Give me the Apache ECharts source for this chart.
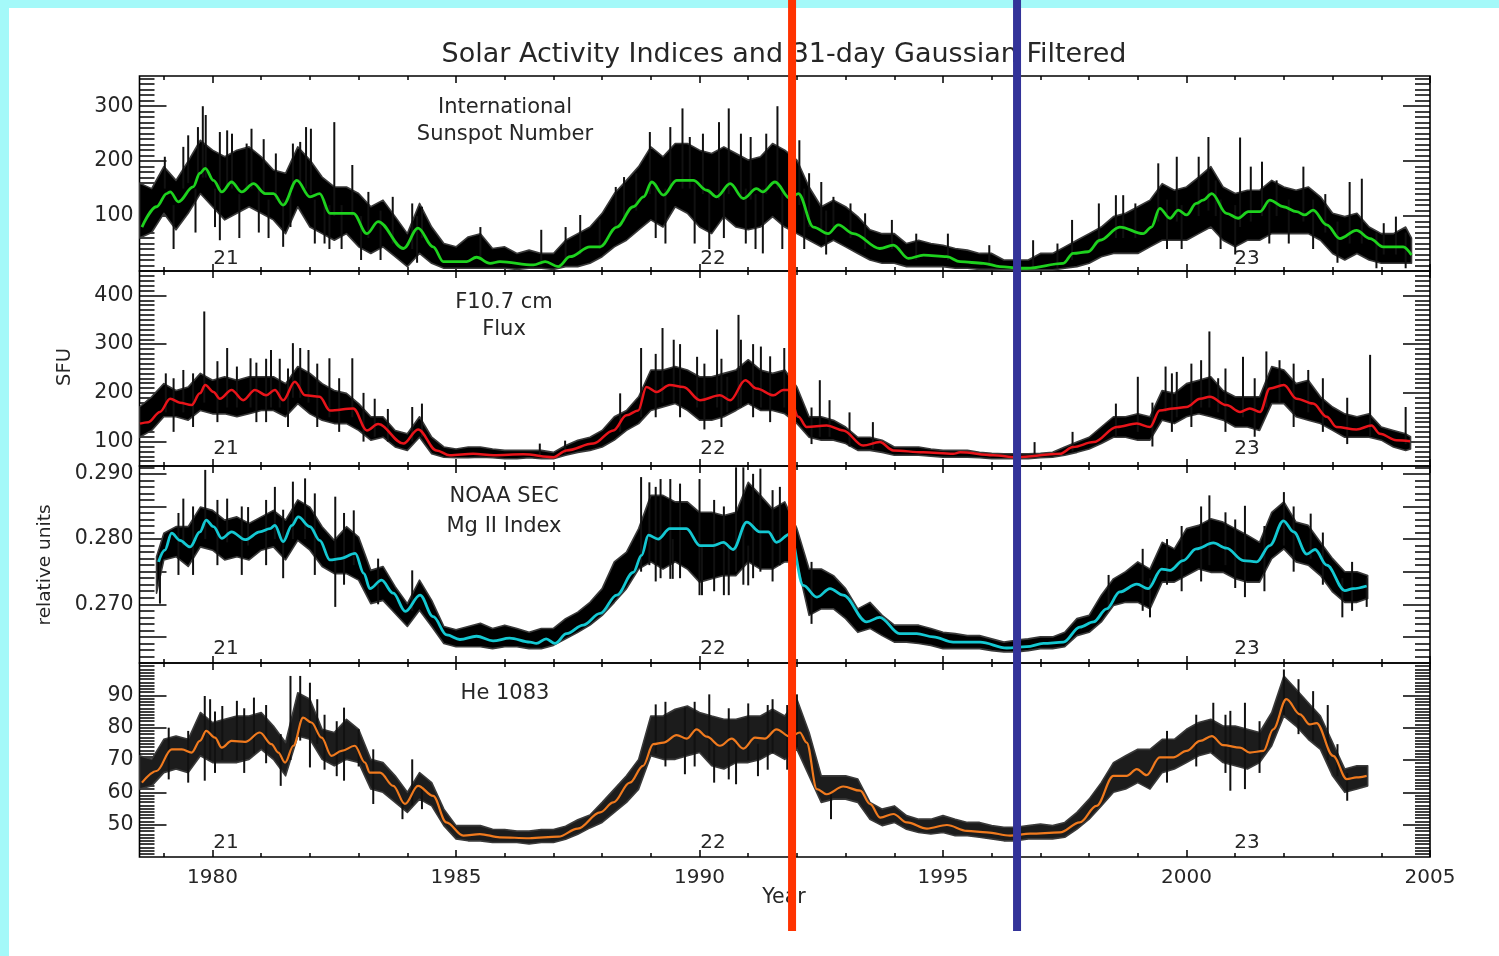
<!DOCTYPE html>
<html>
<head>
<meta charset="utf-8">
<title>Solar Activity Indices</title>
<script src="https://cdn.jsdelivr.net/npm/echarts@6/dist/echarts.min.js"></script>
<style>
  html, body { margin: 0; padding: 0; background: #a4f9f9; }
  #sheet { position: absolute; left: 9px; top: 8px; width: 1490px; height: 948px; background: #ffffff; }
  #chart { position: absolute; left: 0; top: 0; width: 1499px; height: 956px; }
</style>
</head>
<body>
<div id="sheet"></div>
<div id="chart"></div>
<script>
// ---------- tick labels ----------
const yearTicks = [1980, 1985, 1990, 1995, 2000, 2005];
const yearMinor = [1979, 1980, 1981, 1982, 1983, 1984, 1985, 1986, 1987, 1988, 1989, 1990, 1991,
  1992, 1993, 1994, 1995, 1996, 1997, 1998, 1999, 2000, 2001, 2002, 2003, 2004];
const sunTicks = [100, 200, 300];
const fluxTicks = [100, 200, 300, 400];
const mgTicks = [0.270, 0.280, 0.290];
const heTicks = [50, 60, 70, 80, 90];

// ---------- International Sunspot Number ----------
// daily scatter: dense core [year, upper, lower]
const sunBand = [
  [1978.5,160,60],[1978.75,150,70],
  [1979,190,105],[1979.25,165,75],[1979.5,200,105],[1979.75,238,141],
  [1980,220,117],[1980.25,208,93],[1980.5,220,105],[1980.75,226,117],
  [1981,208,105],[1981.25,184,93],[1981.5,178,68],[1981.75,226,117],
  [1982,202,80],[1982.25,171,68],[1982.5,153,56],[1982.75,153,68],
  [1983,141,44],[1983.25,117,32],[1983.5,129,44],[1983.75,99,26],
  [1984,68,8],[1984.25,123,32],[1984.5,80,14],[1984.75,50,5],
  [1985,44,5],[1985.25,62,5],[1985.5,68,5],[1985.75,41,5],
  [1986,44,5],[1986.25,32,3],[1986.5,38,5],[1986.75,32,5],
  [1987,32,3],[1987.25,56,8],[1987.5,68,8],[1987.75,80,14],
  [1988,105,26],[1988.25,141,44],[1988.5,165,56],[1988.75,190,75],
  [1989,226,93],[1989.25,208,80],[1989.5,232,117],[1989.75,232,105],
  [1990,220,80],[1990.25,214,68],[1990.5,226,99],[1990.75,214,80],
  [1991,202,75],[1991.25,208,80],[1991.5,232,99],[1991.75,220,80],
  [1992,202,68],[1992.25,153,56],[1992.5,117,44],[1992.75,129,56],
  [1993,117,44],[1993.25,99,32],[1993.5,75,20],[1993.75,68,14],
  [1994,68,14],[1994.25,50,8],[1994.5,56,8],[1994.75,50,8],
  [1995,47,8],[1995.25,41,5],[1995.5,38,5],[1995.75,32,3],
  [1996,32,3],[1996.25,20,2],[1996.5,20,2],[1996.75,20,2],
  [1997,32,2],[1997.25,32,2],[1997.5,44,5],[1997.75,56,8],
  [1998,68,14],[1998.25,80,26],[1998.5,99,32],[1998.75,105,32],
  [1999,117,32],[1999.25,129,44],[1999.5,159,56],[1999.75,147,56],
  [2000,153,56],[2000.25,171,68],[2000.5,190,80],[2000.75,153,56],
  [2001,141,44],[2001.25,147,56],[2001.5,147,56],[2001.75,165,68],
  [2002,153,68],[2002.25,147,68],[2002.5,153,68],[2002.75,135,56],
  [2003,105,32],[2003.25,99,20],[2003.5,105,32],[2003.75,80,20],
  [2004,68,14],[2004.25,68,14],[2004.5,80,14],[2004.62,60,14]
];
// isolated daily extremes [year, low, high]
const sunSpikes = [
  [1979.02,150,208],[1979.4,150,226],[1979.5,160,247],[1979.7,170,262],[1979.8,170,300],[1979.86,170,284],
  [1980.15,56,253],[1980.3,150,256],[1980.4,150,250],[1980.7,150,232],[1980.8,150,259],[1981.05,140,240],
  [1981.3,130,214],[1981.45,44,130],[1981.65,150,232],[1981.8,160,235],[1981.92,150,262],[1982.02,140,259],
  [1982.4,40,120],[1982.5,100,271],[1982.87,100,193],[1983.2,60,144],[1983.7,50,135],[1984.1,40,123],
  [1984.3,60,117],[1985.5,20,80],[1986.75,10,75],[1987.25,20,80],[1987.55,30,102],[1987.95,40,95],
  [1988.28,80,153],[1988.45,90,171],[1988.7,110,178],[1988.98,140,253],[1989.4,150,262],[1989.65,150,296],
  [1989.8,150,244],[1990.07,140,250],[1990.4,130,271],[1990.6,140,296],[1990.85,130,250],[1991.05,130,244],
  [1991.3,32,150],[1991.37,140,250],[1991.6,150,300],[1991.85,130,247],[1992.05,120,238],[1992.25,80,178],
  [1992.5,70,162],[1992.75,80,135],[1993.1,60,123],[1993.4,40,105],[1993.95,40,93],[1994.45,20,68],
  [1995.1,20,68],[1995.95,10,47],[1996.85,5,56],[1997.35,5,50],[1997.65,20,93],[1998.2,50,123],
  [1998.55,60,138],[1998.7,60,138],[1998.95,60,123],[1999.42,90,196],[1999.8,90,208],[2000.25,100,208],
  [2000.45,110,244],[2000.6,100,165],[2001.1,80,243],[2001.32,90,190],[2001.55,100,199],[2001.85,100,165],
  [2002.4,90,190],[2002.85,70,140],[2003.35,50,162],[2003.6,50,168],[2004.05,30,87],[2004.3,30,99],
  [1979.2,40,120],[1979.65,70,150],[1980.05,80,150],[1980.55,60,140],[1980.95,70,150],[1981.15,60,130],
  [1981.6,80,140],[1982.1,50,130],[1982.3,50,130],[1982.65,40,120],[1983.05,20,100],[1983.45,20,110],
  [1984.2,15,100],[1989.1,60,160],[1989.3,50,150],[1989.9,50,160],[1990.2,40,150],[1990.5,60,150],
  [1990.95,50,150],[1991.15,40,140],[1991.7,40,150],[1992.15,40,150],[1992.6,30,110],[1999.6,40,130],
  [1999.9,40,120],[2000.7,40,130],[2001.0,30,120],[2001.7,50,130],[2002.1,50,130],[2002.6,40,130],
  [2003.1,15,90],[2003.9,5,70],[2004.5,5,70]
];
// 81-day Gaussian filtered
const sunSmooth = [
  [1978.55,80],[1978.85,117],[1979.06,141],[1979.13,144],[1979.3,126],[1979.6,153],[1979.74,178],[1979.85,187],
  [1980.02,165],[1980.19,144],[1980.39,162],[1980.6,144],[1980.84,159],[1981.08,141],[1981.25,141],[1981.45,120],
  [1981.73,165],[1982.0,135],[1982.2,141],[1982.41,105],[1982.89,105],[1983.17,68],[1983.4,90],[1983.92,41],
  [1984.22,78],[1984.53,44],[1984.74,17],[1985.22,17],[1985.42,25],[1985.7,14],[1985.9,17],[1986.59,11],
  [1986.83,17],[1987.1,8],[1987.34,26],[1987.75,44],[1987.96,44],[1988.3,80],[1988.64,117],[1988.85,135],
  [1989.02,162],[1989.26,138],[1989.53,165],[1989.87,165],[1990.15,147],[1990.35,135],[1990.63,159],[1990.9,132],
  [1991.17,150],[1991.3,144],[1991.55,162],[1991.86,132],[1992.03,141],[1992.34,80],[1992.64,68],[1992.85,84],
  [1993.16,68],[1993.7,41],[1993.98,47],[1994.29,23],[1994.6,29],[1995.08,26],[1995.35,17],[1995.83,14],
  [1996.17,8],[1996.58,5],[1996.72,5],[1997.47,14],[1997.67,32],[1997.98,35],[1998.22,56],[1998.63,80],
  [1999.11,68],[1999.28,80],[1999.45,114],[1999.66,96],[1999.83,111],[2000.0,102],[2000.2,123],[2000.34,129],
  [2000.52,141],[2000.82,105],[2001.06,96],[2001.27,108],[2001.51,108],[2001.71,129],[2001.99,117],[2002.26,108],
  [2002.43,102],[2002.6,111],[2002.88,84],[2003.15,59],[2003.49,74],[2003.77,59],[2004.04,44],[2004.45,44],[2004.62,29]
];

// ---------- F10.7 cm Flux (SFU) ----------
const fluxBand = [
  [1978.5,171,109],[1978.75,192,123],
  [1979,219,151],[1979.25,205,151],[1979.5,212,144],[1979.75,240,164],
  [1980,226,157],[1980.25,233,157],[1980.5,226,151],[1980.75,233,157],
  [1981,233,164],[1981.25,233,164],[1981.5,219,151],[1981.75,254,178],
  [1982,240,157],[1982.25,219,144],[1982.5,205,137],[1982.75,199,137],
  [1983,178,123],[1983.25,151,103],[1983.5,151,109],[1983.75,123,89],
  [1984,116,82],[1984.25,151,109],[1984.5,109,75],[1984.75,89,68],
  [1985,85,67],[1985.25,89,67],[1985.5,89,68],[1985.75,85,67],
  [1986,82,65],[1986.25,82,65],[1986.5,82,67],[1986.75,82,65],
  [1987,78,65],[1987.25,92,72],[1987.5,103,78],[1987.75,109,82],
  [1988,123,89],[1988.25,151,103],[1988.5,164,123],[1988.75,192,137],
  [1989,247,164],[1989.25,247,171],[1989.5,254,178],[1989.75,247,164],
  [1990,233,144],[1990.25,233,144],[1990.5,240,151],[1990.75,247,164],
  [1991,268,178],[1991.25,247,164],[1991.5,240,164],[1991.75,247,157],
  [1992,212,137],[1992.25,151,109],[1992.5,151,103],[1992.75,144,103],
  [1993,130,96],[1993.25,109,82],[1993.5,109,82],[1993.75,103,78],
  [1994,89,72],[1994.25,89,72],[1994.5,89,72],[1994.75,85,70],
  [1995,82,68],[1995.25,82,68],[1995.5,82,68],[1995.75,78,67],
  [1996,76,65],[1996.25,75,65],[1996.5,75,65],[1996.75,75,65],
  [1997,76,67],[1997.25,78,68],[1997.5,89,72],[1997.75,99,78],
  [1998,109,85],[1998.25,130,96],[1998.5,151,109],[1998.75,151,109],
  [1999,157,103],[1999.25,151,103],[1999.5,205,144],[1999.75,199,137],
  [2000,219,151],[2000.25,226,157],[2000.5,233,151],[2000.75,205,144],
  [2001,192,130],[2001.25,192,130],[2001.5,192,123],[2001.75,254,178],
  [2002,247,178],[2002.25,219,151],[2002.5,226,144],[2002.75,192,137],
  [2003,171,123],[2003.25,157,109],[2003.5,151,109],[2003.75,157,109],
  [2004,130,103],[2004.25,123,89],[2004.5,116,82],[2004.6,110,85]
];
const fluxSpikes = [
  [1979.04,160,240],[1979.4,160,247],[1979.83,180,367],[1980.3,170,292],[1980.5,170,254],[1980.78,170,271],
  [1981.2,170,288],[1981.38,170,270],[1981.65,190,302],[1981.8,190,292],[1981.97,180,288],[1982.4,150,271],
  [1982.87,150,271],[1983.33,110,188],[1983.6,100,167],[1984.1,100,171],[1984.3,110,178],[1986.72,70,96],
  [1987.24,75,102],[1988.37,120,199],[1988.8,150,292],[1989.24,180,333],[1989.47,180,309],[1989.95,170,274],
  [1990.36,170,330],[1990.57,160,233],[1990.8,170,360],[1990.85,170,309],[1991.26,170,295],[1991.74,170,292],
  [1992.47,110,226],[1992.67,110,185],[1993.08,90,160],[1993.56,85,140],[1996.88,68,99],[1997.66,80,120],
  [1998.55,110,178],[1999.0,120,233],[1999.57,160,254],[1999.8,150,243],[2000.3,170,267],[2000.47,170,326],
  [2000.65,160,230],[2001.16,150,274],[2001.64,170,285],[2001.91,180,267],[2002.5,160,247],[2003.77,110,278],
  [2004.5,95,171],
  [1979.2,120,230],[1979.6,130,240],[1980.1,140,265],[1980.9,140,262],[1981.1,140,270],[1981.55,130,250],
  [1982.15,130,260],[1982.6,120,230],[1983.1,100,200],[1989.1,150,280],[1989.6,150,300],[1990.1,125,260],
  [1990.45,130,270],[1991.1,150,300],[1991.45,140,275],[1992.3,95,170],[1999.3,90,180],[1999.7,120,240],
  [2000.1,130,260],[2000.8,120,250],[2001.4,110,230],[2002.2,130,260],[2002.8,120,230],[2003.3,95,190]
];
const fluxSmooth = [
  [1978.51,137],[1978.68,140],[1978.92,161],[1979.13,188],[1979.33,180],[1979.57,175],[1979.74,199],[1979.85,216],
  [1980.02,202],[1980.15,188],[1980.39,206],[1980.63,185],[1980.87,206],[1981.1,195],[1981.28,206],[1981.45,185],
  [1981.69,223],[1981.9,195],[1982.2,192],[1982.41,164],[1982.89,168],[1983.17,123],[1983.4,136],[1983.92,96],
  [1984.22,125],[1984.6,82],[1984.87,72],[1985.35,75],[1985.77,72],[1986.38,74],[1987.0,68],[1987.27,82],
  [1987.82,96],[1988.23,123],[1988.5,154],[1988.74,164],[1988.91,212],[1989.12,202],[1989.39,216],[1989.67,212],
  [1990.01,185],[1990.42,195],[1990.63,185],[1990.94,226],[1991.17,209],[1991.52,195],[1991.72,206],[1991.82,206],
  [1992.03,151],[1992.2,130],[1992.61,133],[1992.95,123],[1993.36,92],[1993.7,99],[1993.98,82],[1994.59,78],
  [1995.21,75],[1995.35,78],[1996.03,72],[1996.51,68],[1997.4,75],[1997.67,89],[1998.09,99],[1998.57,130],
  [1998.98,137],[1999.25,130],[1999.45,164],[1999.73,168],[2000.0,171],[2000.28,188],[2000.48,192],[2000.82,175],
  [2001.1,161],[2001.3,168],[2001.51,161],[2001.71,209],[2002.0,216],[2002.26,188],[2002.6,178],[2002.88,151],
  [2003.08,130],[2003.49,125],[2003.8,133],[2003.97,116],[2004.31,103],[2004.59,101]
];

// ---------- NOAA SEC Mg II Index (relative units) ----------
const mgBand = [
  [1978.85,0.2773,0.2717],
  [1979,0.2809,0.2768],[1979.25,0.2819,0.2773],[1979.5,0.2819,0.2758],[1979.75,0.2849,0.2788],
  [1980,0.2844,0.2783],[1980.25,0.2829,0.2768],[1980.5,0.2834,0.2773],[1980.75,0.2824,0.2768],
  [1981,0.2834,0.2783],[1981.25,0.2844,0.2788],[1981.5,0.2829,0.2768],[1981.75,0.2860,0.2798],
  [1982,0.2849,0.2783],[1982.25,0.2819,0.2758],[1982.5,0.2798,0.2747],[1982.75,0.2819,0.2747],
  [1983,0.2803,0.2737],[1983.25,0.2752,0.2701],[1983.5,0.2758,0.2706],[1983.75,0.2727,0.2686],
  [1984,0.2701,0.2666],[1984.25,0.2737,0.2691],[1984.5,0.2706,0.2666],[1984.75,0.2666,0.2640],
  [1985,0.2661,0.2635],[1985.25,0.2666,0.2635],[1985.5,0.2671,0.2635],[1985.75,0.2663,0.2632],
  [1986,0.2668,0.2635],[1986.25,0.2663,0.2635],[1986.5,0.2657,0.2632],[1986.75,0.2663,0.2632],
  [1987,0.2663,0.2637],[1987.25,0.2678,0.2647],[1987.5,0.2688,0.2657],[1987.75,0.2703,0.2668],
  [1988,0.2724,0.2683],[1988.25,0.2765,0.2703],[1988.5,0.2780,0.2724],[1988.75,0.2816,0.2754],
  [1989,0.2867,0.2765],[1989.25,0.2867,0.2754],[1989.5,0.2857,0.2765],[1989.75,0.2857,0.2754],
  [1990,0.2841,0.2734],[1990.25,0.2841,0.2739],[1990.5,0.2836,0.2744],[1990.75,0.2841,0.2744],
  [1991,0.2887,0.2765],[1991.25,0.2867,0.2754],[1991.5,0.2846,0.2754],[1991.75,0.2857,0.2765],
  [1992,0.2816,0.2765],[1992.25,0.2754,0.2683],[1992.5,0.2754,0.2693],[1992.75,0.2744,0.2693],
  [1993,0.2724,0.2678],[1993.25,0.2693,0.2657],[1993.5,0.2703,0.2663],[1993.75,0.2683,0.2652],
  [1994,0.2668,0.2642],[1994.25,0.2668,0.2642],[1994.5,0.2668,0.2640],[1994.75,0.2663,0.2637],
  [1995,0.2657,0.2632],[1995.25,0.2655,0.2632],[1995.5,0.2652,0.2632],[1995.75,0.2652,0.2632],
  [1996,0.2647,0.2629],[1996.25,0.2642,0.2627],[1996.5,0.2645,0.2627],[1996.75,0.2647,0.2629],
  [1997,0.2650,0.2632],[1997.25,0.2650,0.2632],[1997.5,0.2657,0.2635],[1997.75,0.2678,0.2652],
  [1998,0.2683,0.2657],[1998.25,0.2714,0.2673],[1998.5,0.2739,0.2698],[1998.75,0.2750,0.2703],
  [1999,0.2765,0.2703],[1999.25,0.2754,0.2693],[1999.5,0.2795,0.2734],[1999.75,0.2785,0.2734],
  [2000,0.2816,0.2744],[2000.25,0.2821,0.2754],[2000.5,0.2831,0.2749],[2000.75,0.2826,0.2749],
  [2001,0.2816,0.2739],[2001.25,0.2806,0.2734],[2001.5,0.2795,0.2734],[2001.75,0.2841,0.2770],
  [2002,0.2857,0.2785],[2002.25,0.2826,0.2765],[2002.5,0.2821,0.2760],[2002.75,0.2795,0.2744],
  [2003,0.2770,0.2719],[2003.25,0.2750,0.2703],[2003.5,0.2750,0.2703],[2003.72,0.2744,0.2709]
];
const mgSpikes = [
  [1978.92,0.2701,0.2780],[1979.4,0.2790,0.2862],[1979.85,0.2800,0.2906],[1980.3,0.2795,0.2862],
  [1980.73,0.2790,0.2849],[1981.28,0.2800,0.2880],[1981.65,0.2800,0.2888],[1981.9,0.2800,0.2893],
  [1982.52,0.2696,0.2865],[1982.9,0.2760,0.2844],[1983.4,0.2700,0.2770],[1984.1,0.2690,0.2752],
  [1988.8,0.2750,0.2895],[1988.97,0.2760,0.2887],[1989.2,0.2740,0.2892],[1989.4,0.2739,0.2892],
  [1989.45,0.2739,0.2800],[1990.0,0.2714,0.2892],[1990.05,0.2714,0.2790],[1990.5,0.2714,0.2850],
  [1990.6,0.2714,0.2790],[1990.75,0.2750,0.2910],[1990.9,0.2730,0.2910],[1991.0,0.2729,0.2790],
  [1991.25,0.2750,0.2908],[1991.65,0.2760,0.2880],[1998.4,0.2690,0.2745],[1999.25,0.2680,0.2740],
  [1999.6,0.2730,0.2800],[2000.47,0.2760,0.2867],[2000.8,0.2760,0.2841],[2001.2,0.2711,0.2851],
  [2002.0,0.2790,0.2872],[2002.55,0.2770,0.2839],[2003.2,0.2680,0.2740],[2003.7,0.2696,0.2740],
  [1979.3,0.2745,0.2840],[1979.6,0.2745,0.2850],[1980.1,0.2760,0.2860],[1980.6,0.2745,0.2850],
  [1981.1,0.2760,0.2860],[1981.45,0.2740,0.2845],[1982.1,0.2745,0.2870],[1982.7,0.2730,0.2840],
  [1989.1,0.2735,0.2880],[1989.6,0.2740,0.2885],[1990.3,0.2720,0.2860],[1991.1,0.2740,0.2900],
  [1991.5,0.2735,0.2875],[1992.3,0.2670,0.2765],[1999.1,0.2690,0.2785],[1999.9,0.2720,0.2820],
  [2000.3,0.2735,0.2850],[2001.0,0.2725,0.2830],[2001.6,0.2720,0.2820],[2002.2,0.2750,0.2850],
  [2002.8,0.2730,0.2810],[2003.4,0.2690,0.2765]
];
const mgSmooth = [
  [1978.89,0.2765],[1979.02,0.2783],[1979.16,0.2809],[1979.33,0.2798],[1979.54,0.2788],[1979.74,0.2811],
  [1979.87,0.2829],[1980.02,0.2819],[1980.19,0.2801],[1980.39,0.2811],[1980.67,0.2799],[1980.97,0.2811],
  [1981.18,0.2816],[1981.28,0.2821],[1981.45,0.2796],[1981.63,0.2821],[1981.76,0.2834],[1982.0,0.2819],
  [1982.2,0.2798],[1982.41,0.2768],[1982.62,0.2770],[1982.93,0.2778],[1983.11,0.2747],[1983.23,0.2724],
  [1983.47,0.2737],[1983.71,0.2717],[1983.96,0.2689],[1984.26,0.2714],[1984.53,0.2681],[1984.81,0.2653],
  [1985.08,0.2646],[1985.42,0.2651],[1985.76,0.2644],[1986.1,0.2648],[1986.52,0.2642],[1986.65,0.2640],
  [1986.85,0.2647],[1987.03,0.2640],[1987.27,0.2655],[1987.61,0.2668],[1987.96,0.2686],[1988.3,0.2714],
  [1988.64,0.2749],[1988.81,0.2775],[1988.95,0.2806],[1989.15,0.2800],[1989.39,0.2816],[1989.73,0.2816],
  [1990.01,0.2790],[1990.28,0.2790],[1990.49,0.2795],[1990.69,0.2784],[1990.97,0.2826],[1991.24,0.2811],
  [1991.41,0.2811],[1991.58,0.2795],[1991.86,0.2808],[1992.13,0.2729],[1992.41,0.2711],[1992.68,0.2724],
  [1992.95,0.2714],[1993.43,0.2673],[1993.7,0.2680],[1994.11,0.2655],[1994.46,0.2655],[1994.8,0.2650],
  [1995.21,0.2642],[1995.76,0.2642],[1996.31,0.2633],[1996.72,0.2635],[1997.06,0.2640],[1997.47,0.2642],
  [1997.81,0.2665],[1998.09,0.2673],[1998.36,0.2693],[1998.63,0.2719],[1998.98,0.2731],[1999.21,0.2724],
  [1999.49,0.2754],[1999.66,0.2752],[1999.93,0.2767],[2000.2,0.2785],[2000.55,0.2794],[2000.82,0.2786],
  [2001.17,0.2767],[2001.44,0.2765],[2001.71,0.2790],[2001.99,0.2828],[2002.2,0.2811],[2002.47,0.2777],
  [2002.64,0.2784],[2002.88,0.2760],[2003.25,0.2721],[2003.42,0.2724],[2003.7,0.2728]
];

// ---------- He 1083 ----------
const heBand = [
  [1978.5,71.3,61.0],[1978.75,70.2,62.0],
  [1979,76.4,66.1],[1979.25,77.4,67.2],[1979.5,76.4,66.1],[1979.75,84.7,71.3],
  [1980,81.6,69.2],[1980.25,82.6,69.2],[1980.5,83.6,69.2],[1980.75,83.6,70.2],
  [1981,84.7,73.3],[1981.25,80.5,70.2],[1981.5,75.4,65.1],[1981.75,90.8,77.4],
  [1982,88.8,76.4],[1982.25,79.5,70.2],[1982.5,78.5,68.2],[1982.75,82.6,70.2],
  [1983,79.5,69.2],[1983.25,70.2,61.0],[1983.5,69.2,60.0],[1983.75,65.1,56.9],
  [1984,60.0,53.8],[1984.25,66.1,57.9],[1984.5,63.0,55.8],[1984.75,54.8,49.7],
  [1985,49.7,45.6],[1985.25,49.7,45.0],[1985.5,49.7,45.0],[1985.75,48.6,44.5],
  [1986,48.5,44.5],[1986.25,48.0,44.5],[1986.5,48.0,44.0],[1986.75,48.5,44.5],
  [1987,48.5,44.5],[1987.25,49.5,45.5],[1987.5,51.5,47.0],[1987.75,53.0,49.0],
  [1988,56.9,50.7],[1988.25,61.0,53.8],[1988.5,65.1,56.9],[1988.75,70.2,61.0],
  [1989,83.6,71.3],[1989.25,83.6,70.2],[1989.5,85.7,70.2],[1989.75,86.7,71.3],
  [1990,84.7,72.3],[1990.25,83.6,68.2],[1990.5,82.6,67.2],[1990.75,82.6,69.2],
  [1991,83.6,69.2],[1991.25,83.6,70.2],[1991.5,85.7,72.3],[1991.75,83.6,70.2],
  [1992,88.8,73.3],[1992.25,78.5,65.1],[1992.5,65.1,56.9],[1992.75,65.1,57.9],
  [1993,65.1,57.9],[1993.25,64.1,56.9],[1993.5,56.9,51.7],[1993.75,54.8,49.7],
  [1994,55.8,50.7],[1994.25,52.8,48.6],[1994.5,51.7,47.6],[1994.75,51.7,47.1],
  [1995,52.8,47.6],[1995.25,51.7,46.6],[1995.5,50.7,46.6],[1995.75,50.7,46.1],
  [1996,49.7,45.6],[1996.25,49.2,45.0],[1996.5,49.2,45.0],[1996.75,49.7,45.6],
  [1997,50.2,45.6],[1997.25,49.7,45.6],[1997.5,50.7,46.1],[1997.75,53.8,48.6],
  [1998,57.9,51.7],[1998.25,63.0,55.8],[1998.5,69.2,60.0],[1998.75,71.3,61.0],
  [1999,73.3,63.0],[1999.25,73.3,61.0],[1999.5,76.4,66.1],[1999.75,76.4,67.2],
  [2000,79.5,69.2],[2000.25,81.6,71.3],[2000.5,82.6,72.3],[2000.75,80.5,69.2],
  [2001,80.5,68.2],[2001.25,79.5,67.2],[2001.5,78.5,69.2],[2001.75,84.7,74.4],
  [2002,96.0,83.6],[2002.25,91.9,80.5],[2002.5,87.7,76.4],[2002.75,83.6,73.3],
  [2003,75.4,65.1],[2003.25,67.2,60.0],[2003.5,68.2,61.0],[2003.72,68.2,62.0]
];
const heSpikes = [
  [1979.84,63.6,89.8],[1979.95,70,88.8],[1980.2,70,86.7],[1980.5,70,88.3],[1980.85,72,89.3],[1981.6,70,96],
  [1981.8,76,96],[1982.0,67.7,93.9],[1982.15,75,88.8],[1982.7,63.6,86.2],[1983.0,68,79.5],[1983.3,56.4,73.3],
  [1983.9,51.7,58],[1984.1,56,70.2],[1984.3,54.8,62],[1989.1,72,87.2],[1989.7,65.6,86.2],[1990.2,70,90.3],
  [1990.3,63,75],[1990.75,62.5,75],[1991.0,70,87.5],[1991.2,65,75],[1991.5,72,88.8],[1992.0,74,90.3],
  [1992.7,51.7,60],[2000.55,72,87.7],[2000.9,60.5,85.2],[2001.2,61,87.7],[2002.0,84,98],[2002.6,76,91.3],
  [2003.1,65,74.9],[2003.3,57.4,66],
  [1979.1,64,80],[1979.5,63,79],[1980.05,66,85],[1980.65,66,86],[1981.1,69,87],[1981.4,62,78],
  [1982.3,67,84],[1982.55,65,82],[1989.3,68,88],[1989.9,68,88],[1990.6,64,86],[1991.4,67,87],
  [1991.8,67,87],[1999.6,63,79],[2000.2,68,84],[2000.8,66,84],[2001.5,66,82],[2002.3,78,95],[2002.9,70,87]
];
const heSmooth = [
  [1978.55,63.0],[1978.85,66.6],[1979.16,73.3],[1979.37,73.3],[1979.57,72.3],[1979.74,75.9],[1979.87,79.0],
  [1980.05,76.9],[1980.19,73.8],[1980.39,75.9],[1980.67,75.6],[1980.97,78.5],[1981.21,74.9],[1981.35,72.3],
  [1981.49,69.2],[1981.66,74.4],[1981.86,83.1],[1982.03,81.6],[1982.24,76.9],[1982.44,71.3],[1982.65,72.8],
  [1982.92,74.4],[1983.13,69.2],[1983.23,66.1],[1983.44,66.1],[1983.71,62.0],[1983.95,56.4],[1984.22,62.0],
  [1984.53,58.9],[1984.8,50.7],[1985.15,46.6],[1985.49,47.1],[1985.9,46.1],[1986.5,45.8],[1987.1,46.3],
  [1987.5,48.8],[1987.96,53.8],[1988.23,56.9],[1988.57,63.0],[1988.84,68.2],[1989.05,74.9],[1989.26,75.4],
  [1989.53,77.7],[1989.74,76.6],[1989.94,79.5],[1990.15,77.2],[1990.42,74.4],[1990.66,76.6],[1990.9,73.5],
  [1991.14,76.9],[1991.34,76.6],[1991.58,79.5],[1991.86,77.2],[1992.06,78.5],[1992.2,75.4],[1992.41,61.0],
  [1992.61,59.4],[1992.95,61.8],[1993.3,60.5],[1993.5,56.4],[1993.71,52.2],[1993.98,53.3],[1994.26,50.7],
  [1994.67,48.8],[1995.08,49.9],[1995.49,48.1],[1995.9,47.6],[1996.38,46.6],[1996.79,47.2],[1997.4,47.6],
  [1997.81,50.7],[1998.15,55.8],[1998.5,65.1],[1998.77,65.1],[1998.98,67.2],[1999.18,65.3],[1999.45,70.8],
  [1999.73,70.8],[2000.0,72.8],[2000.28,75.9],[2000.52,77.4],[2000.75,74.6],[2001.1,73.8],[2001.3,72.3],
  [2001.58,72.8],[2001.78,79.5],[2002.05,88.8],[2002.33,84.1],[2002.53,81.0],[2002.67,81.4],[2003.01,71.3],
  [2003.29,64.1],[2003.49,64.6],[2003.7,65.1]
];

// marker years for the two vertical rules
const markerYears = { red: 1991.9, blue: 1996.52 };

// ---------- layout ----------
const FONT = 'DejaVu Sans';
const TEXT = '#262626';
const X_MIN = 1978.5, X_MAX = 2005;

function steps(a, b, s) {
  const out = [];
  for (let k = 0; ; k++) {
    const v = Math.round((a + k * s) * 1e6) / 1e6;
    if (v > b + 1e-9) break;
    out.push(v);
  }
  return out;
}

const panels = [
  { top: 76,  height: 195, min: 0,     max: 355,    minor: steps(10, 350, 10),       major: sunTicks,  labels: sunTicks,  digits: 0,
    band: sunBand,  spikes: sunSpikes,  smooth: sunSmooth,  color: '#1ed21e', width: 2.8, fill: '#000' },
  { top: 271, height: 195, min: 50,    max: 450,    minor: steps(60, 440, 10),       major: fluxTicks, labels: fluxTicks, digits: 0,
    band: fluxBand, spikes: fluxSpikes, smooth: fluxSmooth, color: '#e8141a', width: 2.5, fill: '#000' },
  { top: 466, height: 197, min: 0.261, max: 0.2912, minor: steps(0.262, 0.291, 0.001), major: steps(0.265, 0.290, 0.005), labels: mgTicks, digits: 3,
    band: mgBand,   spikes: mgSpikes,   smooth: mgSmooth,   color: '#14c8d2', width: 2.8, fill: '#000' },
  { top: 663, height: 194, min: 40,    max: 100,    minor: steps(41, 99, 1),         major: heTicks,   labels: heTicks,   digits: 0,
    band: heBand,   spikes: heSpikes,   smooth: heSmooth,   color: '#f07a1e', width: 2.2, fill: '#1c1c1c' }
];

const tickLine = { color: '#000', width: 1.5 };
const grids = [], xAxes = [], yAxes = [], series = [];

panels.forEach((p, gi) => {
  grids.push({ left: 139.5, width: 1290.5, top: p.top, height: p.height, show: true,
    borderColor: '#000', borderWidth: 1.6, backgroundColor: 'transparent', containLabel: false });

  const xBase = { type: 'value', gridIndex: gi, min: X_MIN, max: X_MAX,
    axisLine: { show: false, onZero: false }, splitLine: { show: false } };
  const isLast = gi === panels.length - 1;
  ['bottom', 'top'].forEach(pos => {
    xAxes.push(Object.assign({}, xBase, { position: pos,
      axisTick: { inside: true, length: 4, customValues: yearMinor, lineStyle: tickLine },
      axisLabel: { show: false, customValues: yearMinor } }));
    xAxes.push(Object.assign({}, xBase, { position: pos,
      axisTick: { inside: true, length: 7, customValues: yearTicks, lineStyle: tickLine },
      axisLabel: { show: isLast && pos === 'bottom', customValues: yearTicks, margin: 11,
        fontFamily: FONT, fontSize: 20, color: TEXT, formatter: v => String(v) } }));
  });

  const yBase = { type: 'value', gridIndex: gi, min: p.min, max: p.max,
    axisLine: { show: false, onZero: false }, splitLine: { show: false } };
  ['left', 'right'].forEach(pos => {
    yAxes.push(Object.assign({}, yBase, { position: pos,
      axisTick: { inside: true, length: 15, customValues: p.minor, lineStyle: tickLine },
      axisLabel: { show: false, customValues: p.minor } }));
    yAxes.push(Object.assign({}, yBase, { position: pos,
      axisTick: { inside: true, length: 27, customValues: p.major, lineStyle: tickLine },
      axisLabel: { show: pos === 'left', customValues: p.labels, margin: 6,
        fontFamily: FONT, fontSize: 20.5, color: TEXT, formatter: v => Number(v).toFixed(p.digits) } }));
  });

  const xi = gi * 4, yi = gi * 4;

  // dense scatter core as one polygon
  series.push({
    type: 'custom', xAxisIndex: xi, yAxisIndex: yi, clip: true, silent: true, z: 2,
    data: [[p.band[0][0], p.band[0][1]]],
    renderItem: (params, api) => {
      const upper = p.band.map(r => api.coord([r[0], r[1]]));
      const lower = p.band.map(r => api.coord([r[0], r[2]])).reverse();
      return { type: 'polygon', shape: { points: upper.concat(lower) },
        style: { fill: p.fill, stroke: '#3a3a3a', lineWidth: 1.6, lineJoin: 'round' } };
    }
  });
  // isolated daily extremes
  series.push({
    type: 'custom', xAxisIndex: xi, yAxisIndex: yi, clip: true, silent: true, z: 2,
    data: p.spikes, encode: { x: 0, y: [1, 2] },
    renderItem: (params, api) => {
      const a = api.coord([api.value(0), api.value(1)]);
      const b = api.coord([api.value(0), api.value(2)]);
      return { type: 'line', shape: { x1: a[0], y1: a[1], x2: b[0], y2: b[1] },
        style: { stroke: '#111', lineWidth: 2 } };
    }
  });
  // filtered curve
  series.push({
    type: 'line', xAxisIndex: xi, yAxisIndex: yi, data: p.smooth, smooth: 0.35, smoothMonotone: 'x',
    showSymbol: false, symbol: 'none', silent: true, z: 4,
    lineStyle: { color: p.color, width: p.width }
  });
});

const chart = echarts.init(document.getElementById('chart'), null, { renderer: 'canvas' });
chart.setOption({
  animation: false,
  backgroundColor: 'transparent',
  grid: grids, xAxis: xAxes, yAxis: yAxes, series: series
});

function label(text, x, y, size, extra) {
  return Object.assign({ type: 'text', x: x, y: y, z: 50, silent: true,
    style: { text: text, fill: TEXT, fontFamily: FONT, fontSize: size, align: 'center', verticalAlign: 'middle' } }, extra || {});
}

const graphics = [
  label('Solar Activity Indices and 31-day Gaussian Filtered', 784, 55, 27),
  label('International', 505, 108, 21),
  label('Sunspot Number', 505, 135, 21),
  label('F10.7 cm', 504, 303, 21),
  label('Flux', 504, 330, 21),
  label('NOAA SEC', 504, 497, 21),
  label('Mg II Index', 504, 527, 21),
  label('He 1083', 505, 694, 21),
  label('SFU', 65, 367, 19.5, { rotation: Math.PI / 2 }),
  label('relative units', 45, 565, 18.5, { rotation: Math.PI / 2 }),
  label('Year', 784, 898, 20.5)
];
const cycleY = [259, 449, 649, 843];
cycleY.forEach(y => {
  graphics.push(label('21', 226, y, 20));
  graphics.push(label('22', 713, y, 20));
  graphics.push(label('23', 1247, y, 20));
});

const redX = chart.convertToPixel({ xAxisIndex: 0 }, markerYears.red);
const blueX = chart.convertToPixel({ xAxisIndex: 0 }, markerYears.blue);
graphics.push({ type: 'rect', z: 100, silent: true, shape: { x: redX - 4, y: 0, width: 8, height: 931 }, style: { fill: '#ff3300' } });
graphics.push({ type: 'rect', z: 100, silent: true, shape: { x: blueX - 4, y: 0, width: 8, height: 931 }, style: { fill: '#333399' } });

chart.setOption({ graphic: graphics });
</script>
</body>
</html>
